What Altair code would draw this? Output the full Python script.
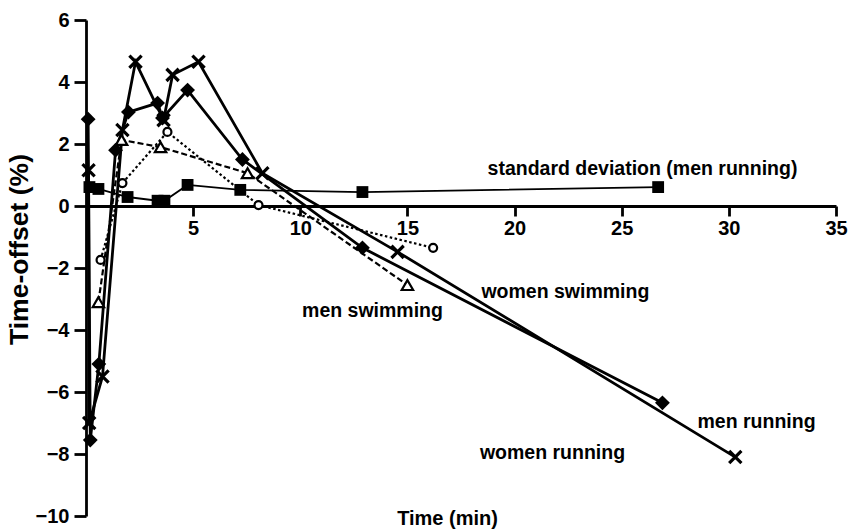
import altair as alt
import pandas as pd

# Time (min) and time-offset (%) for each series
men_run_t = [0.12, 0.15, 0.77, 1.70, 2.31, 3.62, 4.04, 5.25, 8.23, 14.54, 30.3]
men_run_v = [1.15, -7.0, -5.5, 2.45, 4.65, 2.77, 4.23, 4.65, 1.06, -1.48, -8.1]

women_run_t = [0.10, 0.20, 0.60, 1.38, 1.98, 3.34, 3.57, 4.74, 7.30, 12.9, 26.9]
women_run_v = [2.8, -7.55, -5.1, 1.8, 3.03, 3.32, 2.84, 3.74, 1.5, -1.35, -6.35]

women_swim_t = [0.68, 1.70, 3.80, 8.05, 16.2]
women_swim_v = [-1.74, 0.74, 2.39, 0.03, -1.35]

men_swim_t = [0.58, 1.66, 3.48, 7.54, 15.0]
men_swim_v = [-3.1, 2.13, 1.9, 1.06, -2.55]

sd_t = [0.16, 0.58, 1.94, 3.34, 3.66, 4.74, 7.20, 12.9, 26.7]
sd_v = [0.61, 0.55, 0.29, 0.17, 0.17, 0.68, 0.52, 0.45, 0.61]

x_ticks = [5, 10, 15, 20, 25, 30, 35]
y_ticks = [-10, -8, -6, -4, -2, 0, 2, 4, 6]

label_text = ["standard deviation (men running)", "women swimming", "men swimming",
              "men running", "women running"]
label_t = [25.97, 22.37, 13.37, 31.29, 21.77]
label_v = [1.19, -2.77, -3.39, -6.97, -7.97]

FONT = "Liberation Sans"


def table(name, ts, vs):
    return pd.DataFrame({"series": name, "i": range(len(ts)), "t": ts, "v": vs})


series = {
    "men_run": table("men_run", men_run_t, men_run_v),
    "women_run": table("women_run", women_run_t, women_run_v),
    "women_swim": table("women_swim", women_swim_t, women_swim_v),
    "men_swim": table("men_swim", men_swim_t, men_swim_v),
    "sd": table("sd", sd_t, sd_v),
}

xs = alt.Scale(domain=[0, 35], nice=False, zero=False)
ys = alt.Scale(domain=[-10, 6], nice=False, zero=False)

# x axis sits on the zero line; its title stays at the bottom of the chart
x_axis = alt.Axis(
    values=x_ticks, offset=-310, grid=False, labelFlush=False,
    domainColor="black", domainWidth=2.8,
    tickColor="black", tickWidth=2.8, tickSize=10,
    labelFont=FONT, labelFontWeight="bold", labelFontSize=20, labelColor="black",
    labelPadding=2,
    title="Time (min)", titleFont=FONT, titleFontWeight="bold", titleFontSize=20,
    titleColor="black", titleX=361, titleY=312, titleBaseline="middle", titleAlign="center",
)
y_axis = alt.Axis(
    values=y_ticks, grid=False, labelFlush=False,
    domainColor="black", domainWidth=2.8,
    tickColor="black", tickWidth=2.8, tickSize=12,
    labelFont=FONT, labelFontWeight="bold", labelFontSize=20, labelColor="black",
    labelPadding=5,
    title="Time-offset (%)", titleFont=FONT, titleFontWeight="bold", titleFontSize=26.5,
    titleColor="black", titleAngle=270, titleX=-67, titleY=229,
    titleBaseline="middle", titleAlign="center",
)


def enc(chart, axes=False):
    if axes:
        return chart.encode(x=alt.X("t:Q", scale=xs, axis=x_axis),
                            y=alt.Y("v:Q", scale=ys, axis=y_axis),
                            order="i:Q")
    return chart.encode(x=alt.X("t:Q", scale=xs), y=alt.Y("v:Q", scale=ys), order="i:Q")


layers = []
# connecting lines
layers.append(enc(alt.Chart(series["sd"]).mark_line(color="black", strokeWidth=1.8), axes=True))
layers.append(enc(alt.Chart(series["women_swim"]).mark_line(color="black", strokeWidth=2.2,
                                                               strokeDash=[2.5, 2.5])))
layers.append(enc(alt.Chart(series["men_swim"]).mark_line(color="black", strokeWidth=2.2,
                                                             strokeDash=[6, 3])))
layers.append(enc(alt.Chart(series["women_run"]).mark_line(color="black", strokeWidth=2.8)))
layers.append(enc(alt.Chart(series["men_run"]).mark_line(color="black", strokeWidth=2.8)))

# markers
layers.append(enc(alt.Chart(series["sd"]).mark_point(
    shape="square", filled=True, color="black", size=140, opacity=1)))
layers.append(enc(alt.Chart(series["women_swim"]).mark_point(
    shape="circle", fill="white", stroke="black", strokeWidth=2.2, size=64,
    opacity=1, fillOpacity=1)))
layers.append(enc(alt.Chart(series["men_swim"]).mark_point(
    shape="triangle-up", fill="white", stroke="black", strokeWidth=2.2, size=130,
    opacity=1, fillOpacity=1)))
layers.append(enc(alt.Chart(series["women_run"]).mark_point(
    shape="diamond", filled=True, color="black", size=220, opacity=1)))
layers.append(enc(alt.Chart(series["men_run"]).mark_point(
    shape="M-1,-1L1,1M-1,1L1,-1", filled=False, color="black", strokeWidth=3.2,
    size=150, opacity=1)))

labels = pd.DataFrame({"t": label_t, "v": label_v, "text": label_text})
layers.append(alt.Chart(labels).mark_text(
    font=FONT, fontWeight="bold", fontSize=19.5, color="black",
    align="center", baseline="middle",
).encode(x=alt.X("t:Q", scale=xs), y=alt.Y("v:Q", scale=ys), text="text:N"))

chart = alt.layer(*layers).properties(
    width=750, height=496,
    autosize=alt.AutoSizeParams(type="none"),
    padding={"left": 86, "top": 20, "right": 13, "bottom": 13},
    background="white",
).configure_view(strokeWidth=0)

chart.save("out.html", embed_options={"renderer": "svg", "actions": False})
